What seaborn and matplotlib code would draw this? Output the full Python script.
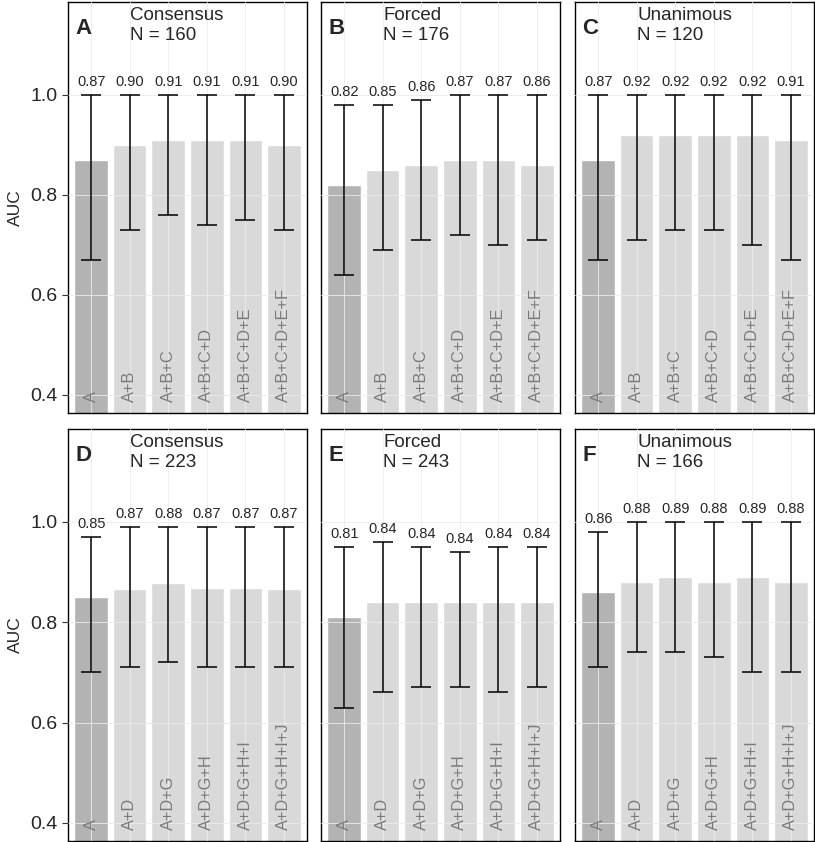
import numpy as np
import pandas as pd
import matplotlib
matplotlib.use("Agg")
import matplotlib.pyplot as plt
import seaborn as sns

sns.set_style("white")
plt.rcParams['font.family'] = ['Liberation Sans', 'DejaVu Sans']

# panel data
letters = ['A', 'B', 'C', 'D', 'E', 'F']
titles = ['Consensus', 'Forced', 'Unanimous', 'Consensus', 'Forced', 'Unanimous']
n_obs = [160, 176, 120, 223, 243, 166]

cats_top = ['A', 'A+B', 'A+B+C', 'A+B+C+D', 'A+B+C+D+E', 'A+B+C+D+E+F']
cats_bottom = ['A', 'A+D', 'A+D+G', 'A+D+G+H', 'A+D+G+H+I', 'A+D+G+H+I+J']

auc_a = [0.87, 0.90, 0.91, 0.91, 0.91, 0.90]
lo_a = [0.67, 0.73, 0.76, 0.74, 0.75, 0.73]
hi_a = [1.00, 1.00, 1.00, 1.00, 1.00, 1.00]

auc_b = [0.82, 0.85, 0.86, 0.87, 0.87, 0.86]
lo_b = [0.64, 0.69, 0.71, 0.72, 0.70, 0.71]
hi_b = [0.98, 0.98, 0.99, 1.00, 1.00, 1.00]

auc_c = [0.87, 0.92, 0.92, 0.92, 0.92, 0.91]
lo_c = [0.67, 0.71, 0.73, 0.73, 0.70, 0.67]
hi_c = [1.00, 1.00, 1.00, 1.00, 1.00, 1.00]

auc_d = [0.85, 0.867, 0.879, 0.869, 0.869, 0.867]
lo_d = [0.70, 0.71, 0.72, 0.71, 0.71, 0.71]
hi_d = [0.97, 0.99, 0.99, 0.99, 0.99, 0.99]

auc_e = [0.81, 0.84, 0.84, 0.84, 0.84, 0.84]
lo_e = [0.63, 0.66, 0.67, 0.67, 0.66, 0.67]
hi_e = [0.95, 0.96, 0.95, 0.94, 0.95, 0.95]

auc_f = [0.86, 0.88, 0.89, 0.88, 0.89, 0.88]
lo_f = [0.71, 0.74, 0.74, 0.73, 0.70, 0.70]
hi_f = [0.98, 1.00, 1.00, 1.00, 1.00, 1.00]

panels = [
    (cats_top, auc_a, lo_a, hi_a),
    (cats_top, auc_b, lo_b, hi_b),
    (cats_top, auc_c, lo_c, hi_c),
    (cats_bottom, auc_d, lo_d, hi_d),
    (cats_bottom, auc_e, lo_e, hi_e),
    (cats_bottom, auc_f, lo_f, hi_f),
]

dark = '#b3b3b3'
light = '#d9d9d9'
ymin, ymax = 0.364, 1.185

W, H = 815, 842
fig = plt.figure(figsize=(W / 100, H / 100), dpi=100)

lefts = [68, 321, 575]
rows = [(2, 413), (429, 841)]
pw = 239

for i, (cats, auc, lo, hi) in enumerate(panels):
    r, c = divmod(i, 3)
    top, bot = rows[r]
    ax = fig.add_axes([lefts[c] / W, 1 - bot / H, pw / W, (bot - top) / H])

    df = pd.DataFrame({'model': cats, 'auc': auc, 'lo': lo, 'hi': hi})
    pal = [dark] + [light] * (len(cats) - 1)
    sns.barplot(data=df, x='model', y='auc', hue='model', palette=pal,
                legend=False, width=0.87, errorbar=None, saturation=1,
                ax=ax, zorder=1)

    ax.grid(True, color='#ebebeb', linewidth=0.6, zorder=2)
    ax.set_axisbelow(False)

    xs = np.arange(len(cats))
    y = df['auc'].values
    ax.errorbar(xs, y, yerr=[y - df['lo'].values, df['hi'].values - y],
                fmt='none', ecolor='black', elinewidth=1.1, capthick=1.1,
                capsize=7.3, zorder=3)

    for x, h, v in zip(xs, df['hi'], df['auc']):
        ax.text(x, h + 0.011, f'{v:.2f}', ha='center', va='bottom',
                fontsize=10.5, zorder=4)
    for x, name in zip(xs, cats):
        ax.text(x, ymin + 0.022, name, rotation=90, ha='center', va='bottom',
                fontsize=11.8, color='#7a7a7a', zorder=4)

    ax.text(0.03, 0.935, letters[i], transform=ax.transAxes, fontsize=16,
            fontweight='bold', va='center', ha='left')
    ax.text(0.26, 0.988, f'{titles[i]}\nN = {n_obs[i]}', transform=ax.transAxes,
            fontsize=13.5, va='top', ha='left', linespacing=1.2)

    ax.set_ylim(ymin, ymax)
    ax.set_xlim(-0.6, len(cats) - 0.4)
    ax.set_yticks([0.4, 0.6, 0.8, 1.0])
    ax.set_xticks(xs)
    ax.set_xticklabels([])
    ax.set_xlabel('')
    ax.tick_params(axis='x', length=0)
    if c == 0:
        ax.set_yticklabels(['0.4', '0.6', '0.8', '1.0'])
        ax.tick_params(axis='y', left=True, length=4, width=0.8, pad=3.5,
                       labelsize=14, color='#333333')
        ax.set_ylabel('AUC', fontsize=12.5, labelpad=5)
    else:
        ax.set_yticklabels([])
        ax.tick_params(axis='y', left=False, length=0)
        ax.set_ylabel('')
    for s in ax.spines.values():
        s.set_color('black')
        s.set_linewidth(1.0)

fig.savefig('out.png', dpi=100)
